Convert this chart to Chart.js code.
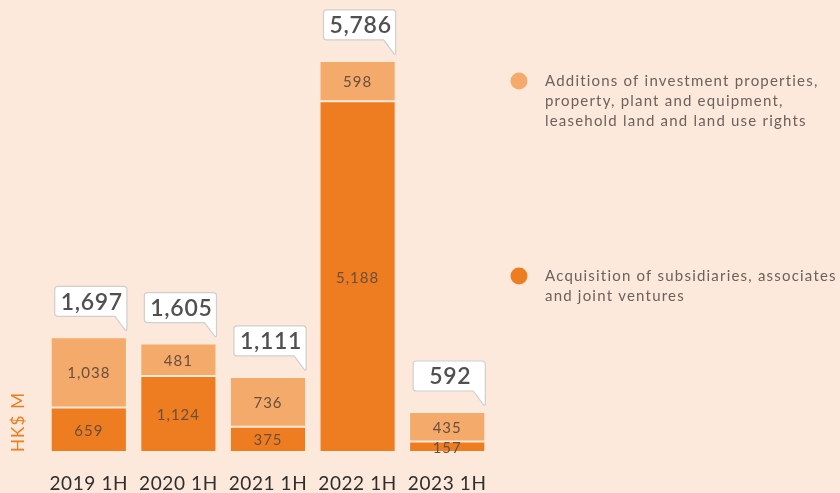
<!DOCTYPE html>
<html>
<head>
<meta charset="utf-8">
<script src="https://cdn.jsdelivr.net/npm/chart.js@4.4.0/dist/chart.umd.min.js"></script>
<style>
  html, body { margin: 0; padding: 0; background: #fce9db; }
  #wrap { width: 840px; height: 493px; position: relative; }
</style>
</head>
<body>
<div id="wrap"><canvas id="capexChart"></canvas></div>
<script>
// data
const periods = ['2019 1H', '2020 1H', '2021 1H', '2022 1H', '2023 1H'];
const acquisitions = [659, 1124, 375, 5188, 157];
const additions = [1038, 481, 736, 598, 435];
const totals = [1697, 1605, 1111, 5786, 592];
const legendAdditions = ['Additions of investment properties,', 'property, plant and equipment,', 'leasehold land and land use rights'];
const legendAcquisitions = ['Acquisition of subsidiaries, associates', 'and joint ventures'];

const DARK = '#ee7d22';
const LIGHT = '#f4aa6a';
const fmt = v => v.toLocaleString('en-US');

// callouts, segment values, legend and axis title
const extras = {
  id: 'extras',
  beforeDraw(chart) {
    chart.ctx.letterSpacing = '0.6px';
  },
  afterDatasetsDraw(chart) {
    const ctx = chart.ctx;
    ctx.save();
    ctx.textAlign = 'center';
    ctx.textBaseline = 'middle';

    // values inside segments
    ctx.letterSpacing = '1px';
    chart.data.datasets.forEach((ds, i) => {
      chart.getDatasetMeta(i).data.forEach((bar, j) => {
        const mid = (bar.y + bar.base) / 2;
        ctx.font = '15px Lato';
        ctx.fillStyle = '#6a4e3e';
        ctx.fillText(fmt(ds.data[j]), bar.x, mid + 1);
      });
    });

    // total callouts
    const topMeta = chart.getDatasetMeta(1);
    topMeta.data.forEach((bar, j) => {
      const half = bar.width / 2;
      const l = bar.x - half + 4, r = bar.x + half;
      const bottom = bar.y - 21, top = bottom - 30;
      const tip = bar.y - 6;
      ctx.beginPath();
      ctx.moveTo(l + 3, top);
      ctx.lineTo(r - 3, top);
      ctx.quadraticCurveTo(r, top, r, top + 3);
      ctx.lineTo(r, tip - 2);
      ctx.quadraticCurveTo(r, tip, r - 1.5, tip - 1);
      ctx.lineTo(r - 12, bottom);
      ctx.lineTo(l + 3, bottom);
      ctx.quadraticCurveTo(l, bottom, l, bottom - 3);
      ctx.lineTo(l, top + 3);
      ctx.quadraticCurveTo(l, top, l + 3, top);
      ctx.closePath();
      ctx.fillStyle = '#ffffff';
      ctx.fill();
      ctx.strokeStyle = '#cfcfcf';
      ctx.lineWidth = 1.2;
      ctx.stroke();
      ctx.letterSpacing = '0.7px';
      ctx.font = '600 23px Lato';
      ctx.fillStyle = '#505050';
      ctx.fillText(fmt(totals[j]), (l + r) / 2 + 1, (top + bottom) / 2 + 1);
    });

    // legend
    const drawItem = (color, lines, y) => {
      ctx.beginPath();
      ctx.arc(519, y, 8.5, 0, Math.PI * 2);
      ctx.fillStyle = color;
      ctx.fill();
      ctx.textAlign = 'left';
      ctx.letterSpacing = '1.2px';
      ctx.font = '15px Lato';
      ctx.fillStyle = '#6b625c';
      lines.forEach((t, k) => ctx.fillText(t, 545, y + k * 20));
    };
    drawItem(LIGHT, legendAdditions, 81);
    drawItem(DARK, legendAcquisitions, 276);

    // axis title
    ctx.translate(19, 422);
    ctx.rotate(-Math.PI / 2);
    ctx.textAlign = 'center';
    ctx.letterSpacing = '1.2px';
    ctx.font = '17px Lato';
    ctx.fillStyle = DARK;
    ctx.fillText('HK$ M', 0, 0);
    ctx.restore();
  }
};

new Chart(document.getElementById('capexChart'), {
  type: 'bar',
  data: {
    labels: periods,
    datasets: [
      { label: legendAcquisitions.join(' '), data: acquisitions, backgroundColor: DARK, borderColor: 'rgba(255,235,215,0.7)', borderWidth: 1, borderSkipped: false },
      { label: legendAdditions.join(' '), data: additions, backgroundColor: LIGHT, borderColor: 'rgba(255,235,215,0.7)', borderWidth: 1, borderSkipped: false }
    ]
  },
  options: {
    responsive: true,
    maintainAspectRatio: false,
    animation: false,
    layout: { padding: { left: 44, right: 348, top: 10, bottom: 0 } },
    datasets: { bar: { barPercentage: 0.85, categoryPercentage: 1 } },
    plugins: { legend: { display: false }, tooltip: { enabled: false } },
    scales: {
      x: {
        stacked: true,
        grid: { display: false, drawTicks: false },
        border: { display: false },
        ticks: { padding: 22, color: '#2e2e2e', font: { family: 'Lato', size: 19, lineHeight: 1 } },
        afterFit: s => { s.height = 41; }
      },
      y: { stacked: true, display: false, min: 0, max: 6540 }
    }
  },
  plugins: [extras]
});
</script>
</body>
</html>
